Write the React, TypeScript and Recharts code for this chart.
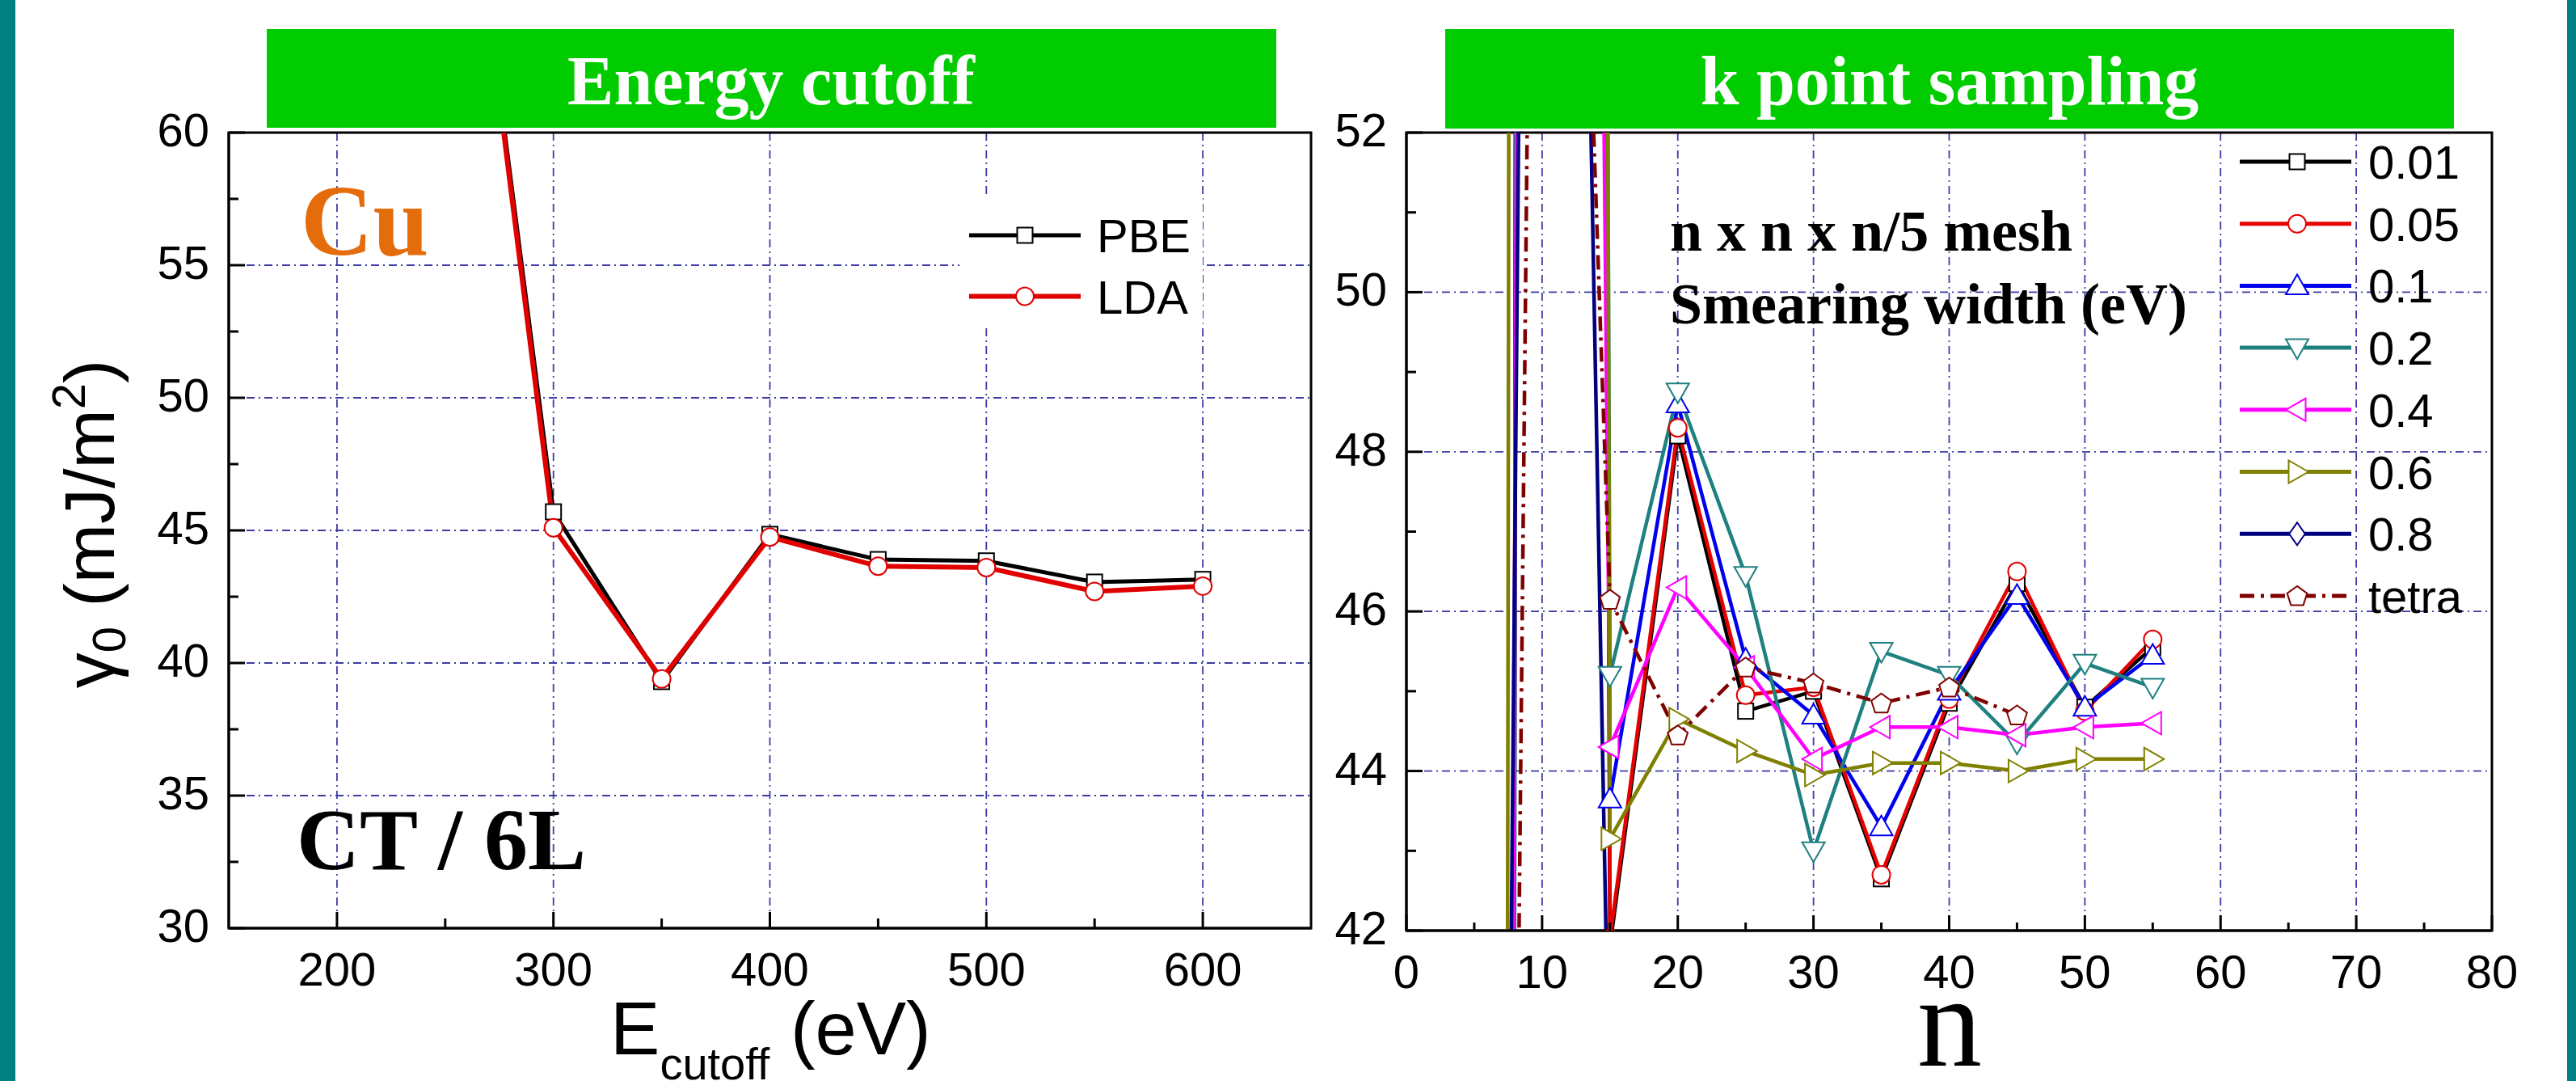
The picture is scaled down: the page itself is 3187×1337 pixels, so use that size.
import React from "react";
import {
  LineChart,
  Line,
  XAxis,
  YAxis,
  CartesianGrid,
  Legend,
  ReferenceArea,
} from "recharts";

// ---- energy cutoff panel (Cu, CT / 6L) ----
const cutoffEnergy = [250, 300, 350, 400, 450, 500, 550, 600];
const pbeGamma = [77.5, 45.7, 39.3, 44.85, 43.9, 43.85, 43.05, 43.15];
const ldaGamma = [77.5, 45.1, 39.4, 44.75, 43.65, 43.6, 42.7, 42.9];

const cutoffTicks = [200, 250, 300, 350, 400, 450, 500, 550, 600];
const cutoffLabels = [200, 300, 400, 500, 600];
const gammaTicks = [30, 32.5, 35, 37.5, 40, 42.5, 45, 47.5, 50, 52.5, 55, 57.5, 60];
const gammaLabels = [30, 35, 40, 45, 50, 55, 60];

// ---- k point sampling panel ----
const meshN = [5, 10, 15, 20, 25, 30, 35, 40, 45, 50, 55];
const sigma001 = [-320, 290, 41.8, 48.2, 44.75, 45.0, 42.65, 44.85, 46.35, 44.8, 45.55];
const sigma005 = [-318, 292, 41.9, 48.3, 44.95, 45.05, 42.7, 44.9, 46.5, 44.75, 45.65];
const sigma01 = [-260, 252, 43.65, 48.6, 45.4, 44.7, 43.3, 45.0, 46.2, 44.8, 45.45];
const sigma02 = [-289, 271, 45.2, 48.75, 46.45, 43.0, 45.5, 45.2, 44.35, 45.35, 45.05];
const sigma04 = [-83, 134, 44.3, 46.3, 45.3, 44.15, 44.55, 44.55, 44.45, 44.55, 44.6];
const sigma06 = [-244, 338, 43.15, 44.65, 44.25, 43.95, 44.1, 44.1, 44.0, 44.15, 44.15];
const sigma08 = [-9.6, 84.7, 39.3, 39.6, 39.1, 38.9, 39.2, 39.0, 39.3, 39.1, 39.2];
const tetra = [-13.4, 70.5, 46.15, 44.45, 45.3, 45.1, 44.85, 45.05, 44.7, null, null];

const nTicks = [0, 5, 10, 15, 20, 25, 30, 35, 40, 45, 50, 55, 60, 65, 70, 75, 80];
const nLabels = [0, 10, 20, 30, 40, 50, 60, 70, 80];
const kGammaTicks = [42, 43, 44, 45, 46, 47, 48, 49, 50, 51, 52];
const kGammaLabels = [42, 44, 46, 48, 50, 52];

const SANS = "'Liberation Sans', Arial, sans-serif";
const SERIF = "'Liberation Serif', 'Times New Roman', serif";
const GRID = "#3c3ca4";
const TEAL = "#008080";
const GREEN = "#00cc00";

const cutoffSeries = [
  { key: "pbe", name: "PBE", values: pbeGamma, color: "#000000", shape: "square", width: 5 },
  { key: "lda", name: "LDA", values: ldaGamma, color: "#e00000", shape: "circle", width: 6 },
];

const smearSeries = [
  { key: "s001", name: "0.01", values: sigma001, color: "#000000", shape: "square", dash: undefined },
  { key: "s005", name: "0.05", values: sigma005, color: "#e60000", shape: "circle", dash: undefined },
  { key: "s01", name: "0.1", values: sigma01, color: "#0000ee", shape: "up", dash: undefined },
  { key: "s02", name: "0.2", values: sigma02, color: "#1f8080", shape: "down", dash: undefined },
  { key: "s04", name: "0.4", values: sigma04, color: "#ff00ff", shape: "left", dash: undefined },
  { key: "s06", name: "0.6", values: sigma06, color: "#808000", shape: "right", dash: undefined },
  { key: "s08", name: "0.8", values: sigma08, color: "#000080", shape: "diamond", dash: undefined },
  { key: "tetra", name: "tetra", values: tetra, color: "#800000", shape: "pentagon", dash: "18 8 4 8" },
];

const cutoffData = cutoffEnergy.map((e, i) => {
  const row: any = { e };
  cutoffSeries.forEach((s) => (row[s.key] = s.values[i]));
  return row;
});

const meshData = meshN.map((n, i) => {
  const row: any = { n };
  smearSeries.forEach((s) => (row[s.key] = s.values[i]));
  return row;
});

const Marker = ({ cx, cy, shape, color }: any) => {
  if (cx == null || cy == null || isNaN(cx) || isNaN(cy)) return <g />;
  const st = { fill: "#fff", stroke: color, strokeWidth: 2 };
  const r = 14;
  const pts = (arr: number[][]) => arr.map((p) => `${cx + p[0]},${cy + p[1]}`).join(" ");
  switch (shape) {
    case "square":
      return <rect x={cx - 9.5} y={cy - 9.5} width={19} height={19} {...st} />;
    case "circle":
      return <circle cx={cx} cy={cy} r={11} {...st} />;
    case "up":
      return <polygon points={pts([[0, -r], [r, r * 0.75], [-r, r * 0.75]])} {...st} />;
    case "down":
      return <polygon points={pts([[0, r], [r, -r * 0.75], [-r, -r * 0.75]])} {...st} />;
    case "left":
      return <polygon points={pts([[-r, 0], [r * 0.75, -r], [r * 0.75, r]])} {...st} />;
    case "right":
      return <polygon points={pts([[r, 0], [-r * 0.75, -r], [-r * 0.75, r]])} {...st} />;
    case "diamond":
      return <polygon points={pts([[0, -r], [r * 0.7, 0], [0, r], [-r * 0.7, 0]])} {...st} />;
    case "pentagon": {
      const p = [0, 1, 2, 3, 4].map((k) => {
        const a = -Math.PI / 2 + (k * 2 * Math.PI) / 5;
        return [13 * Math.cos(a), 13 * Math.sin(a) + 1];
      });
      return <polygon points={pts(p)} {...st} />;
    }
    default:
      return <g />;
  }
};

const xTick = (labels: number[], major: number, minor: number) => (props: any) => {
  const { x, y, payload } = props;
  const isMajor = labels.includes(payload.value);
  return (
    <g>
      <line x1={x} y1={y} x2={x} y2={y - (isMajor ? major : minor)} stroke="#000" strokeWidth={3} />
      {isMajor && (
        <text x={x} y={y + 71} textAnchor="middle" fontSize={58} fontFamily={SANS} fill="#000">
          {payload.value}
        </text>
      )}
    </g>
  );
};

const yTick = (labels: number[], major: number, minor: number) => (props: any) => {
  const { x, y, payload } = props;
  const isMajor = labels.includes(payload.value);
  return (
    <g>
      <line x1={x} y1={y} x2={x + (isMajor ? major : minor)} y2={y} stroke="#000" strokeWidth={3} />
      {isMajor && (
        <text x={x - 24} y={y + 17} textAnchor="end" fontSize={58} fontFamily={SANS} fill="#000">
          {payload.value}
        </text>
      )}
    </g>
  );
};

const CutoffLegend = () => (
  <div style={{ background: "#fff", width: 301, height: 161 }}>
    <svg width={301} height={161}>
      {cutoffSeries.map((s, i) => {
        const cy = 50 + 75.5 * i;
        return (
          <g key={s.key}>
            <line x1={12} x2={150} y1={cy} y2={cy} stroke={s.color} strokeWidth={s.width} />
            <Marker cx={81} cy={cy} shape={s.shape} color={s.color} />
            <text x={170} y={cy + 21} fontSize={58} fontFamily={SANS} fill="#000">
              {s.name}
            </text>
          </g>
        );
      })}
    </svg>
  </div>
);

const SmearLegend = () => (
  <svg width={330} height={640}>
    {smearSeries.map((s, i) => {
      const cy = 40 + 76.7 * i;
      return (
        <g key={s.key}>
          <line x1={11} x2={149} y1={cy} y2={cy} stroke={s.color} strokeWidth={5} strokeDasharray={s.dash} />
          <Marker cx={82} cy={cy} shape={s.shape} color={s.color} />
          <text x={170} y={cy + 21} fontSize={58} fontFamily={SANS} fill="#000">
            {s.name}
          </text>
        </g>
      );
    })}
  </svg>
);

const axisLine = { stroke: "#000", strokeWidth: 3 };

const CutoffChart = () => (
  <LineChart width={1640} height={1337} data={cutoffData} margin={{ top: 164, right: 18, bottom: 129, left: 183 }}>
    <CartesianGrid
      stroke={GRID}
      strokeWidth={1.8}
      strokeDasharray="10 5 2 5"
      horizontalValues={[35, 40, 45, 50, 55]}
      verticalValues={[200, 300, 400, 500, 600]}
    />
    <XAxis
      dataKey="e"
      type="number"
      domain={[150, 650]}
      ticks={cutoffTicks}
      interval={0}
      height={60}
      tickSize={0}
      tickMargin={0}
      tickLine={false}
      tick={xTick(cutoffLabels, 20, 12)}
      axisLine={axisLine}
    />
    <YAxis
      type="number"
      domain={[30, 60]}
      allowDataOverflow
      ticks={gammaTicks}
      interval={0}
      width={100}
      tickSize={0}
      tickMargin={0}
      tickLine={false}
      tick={yTick(gammaLabels, 20, 12)}
      axisLine={axisLine}
    />
    <ReferenceArea x1={150} x2={650} y1={30} y2={60} fill="none" stroke="#000" strokeWidth={3} />
    {cutoffSeries.map((s) => (
      <Line
        key={s.key}
        type="linear"
        dataKey={s.key}
        name={s.name}
        stroke={s.color}
        strokeWidth={s.width}
        isAnimationActive={false}
        activeDot={false}
        dot={(p: any) => <Marker key={`${s.key}-${p.index}`} cx={p.cx} cy={p.cy} shape={s.shape} color={s.color} />}
      />
    ))}
    <Legend
      layout="vertical"
      align="center"
      verticalAlign="middle"
      content={() => <CutoffLegend />}
      wrapperStyle={{ left: 1187, top: 241, width: 301, height: 161 }}
    />
  </LineChart>
);

const SmearChart = () => (
  <LineChart width={1547} height={1337} data={meshData} margin={{ top: 164, right: 104, bottom: 126, left: 20 }}>
    <CartesianGrid
      stroke={GRID}
      strokeWidth={1.8}
      strokeDasharray="10 5 2 5"
      horizontalValues={[44, 46, 48, 50]}
      verticalValues={[10, 20, 30, 40, 50, 60, 70]}
    />
    <XAxis
      dataKey="n"
      type="number"
      domain={[0, 80]}
      ticks={nTicks}
      interval={0}
      height={60}
      tickSize={0}
      tickMargin={0}
      tickLine={false}
      tick={xTick(nLabels, 19, 10)}
      axisLine={axisLine}
    />
    <YAxis
      type="number"
      domain={[42, 52]}
      allowDataOverflow
      ticks={kGammaTicks}
      interval={0}
      width={80}
      tickSize={0}
      tickMargin={0}
      tickLine={false}
      tick={yTick(kGammaLabels, 20, 12)}
      axisLine={axisLine}
    />
    <ReferenceArea x1={0} x2={80} y1={42} y2={52} fill="none" stroke="#000" strokeWidth={3} />
    {smearSeries.map((s) => (
      <Line
        key={s.key}
        type="linear"
        dataKey={s.key}
        name={s.name}
        stroke={s.color}
        strokeWidth={4.5}
        strokeDasharray={s.dash}
        isAnimationActive={false}
        activeDot={false}
        dot={(p: any) => <Marker key={`${s.key}-${p.index}`} cx={p.cx} cy={p.cy} shape={s.shape} color={s.color} />}
      />
    ))}
    <Legend
      layout="vertical"
      align="center"
      verticalAlign="middle"
      content={() => <SmearLegend />}
      wrapperStyle={{ left: 1120, top: 160, width: 330, height: 640 }}
    />
  </LineChart>
);

export default function App() {
  return (
    <div style={{ position: "relative", width: 3187, height: 1337, background: "#fff", overflow: "hidden" }}>
      <style>{"body{margin:0}"}</style>
      <div style={{ position: "absolute", left: 0, top: 0 }}>
        <CutoffChart />
      </div>
      <div style={{ position: "absolute", left: 1640, top: 0 }}>
        <SmearChart />
      </div>
      <svg
        width={3187}
        height={1337}
        style={{ position: "absolute", left: 0, top: 0, pointerEvents: "none" }}
      >
        <rect x={0} y={0} width={19} height={1337} fill={TEAL} />
        <rect x={3176} y={0} width={11} height={1337} fill={TEAL} />
        <rect x={330} y={36} width={1249} height={122} fill={GREEN} />
        <rect x={1788} y={36} width={1248} height={123} fill={GREEN} />
        <text x={954} y={129} textAnchor="middle" fontSize={86} fontWeight="bold" fontFamily={SERIF} fill="#fff">
          Energy cutoff
        </text>
        <text x={2412} y={129} textAnchor="middle" fontSize={86} fontWeight="bold" fontFamily={SERIF} fill="#fff">
          k point sampling
        </text>
        <text x={372} y={315} fontSize={124} fontWeight="bold" fontFamily={SERIF} fill="#e46c0a">
          Cu
        </text>
        <text x={367} y={1075} fontSize={108} fontWeight="bold" fontFamily={SERIF} fill="#000">
          CT / 6L
        </text>
        <text x={2066} y={310} fontSize={72} fontWeight="bold" fontFamily={SERIF} fill="#000">
          n x n x n/5 mesh
        </text>
        <text x={2066} y={400} fontSize={72} fontWeight="bold" fontFamily={SERIF} fill="#000">
          Smearing width (eV)
        </text>
        <text x={755} y={1304} fontSize={92} fontFamily={SANS} fill="#000">
          E
          <tspan fontSize={56} dy={31}>
            cutoff
          </tspan>
          <tspan fontSize={92} dy={-31}>
            {" (eV)"}
          </tspan>
        </text>
        <text x={2412} y={1318} textAnchor="middle" fontSize={160} fontFamily={SERIF} fill="#000">
          n
        </text>
        <text transform="rotate(-90)" x={-648} y={141} textAnchor="middle" fontSize={88} fontFamily={SANS} fill="#000">
          γ
          <tspan fontSize={58} dy={14}>
            0
          </tspan>
          <tspan fontSize={88} dy={-14}>
            {" (mJ/m"}
          </tspan>
          <tspan fontSize={58} dy={-36}>
            2
          </tspan>
          <tspan fontSize={88} dy={36}>
            )
          </tspan>
        </text>
      </svg>
    </div>
  );
}
